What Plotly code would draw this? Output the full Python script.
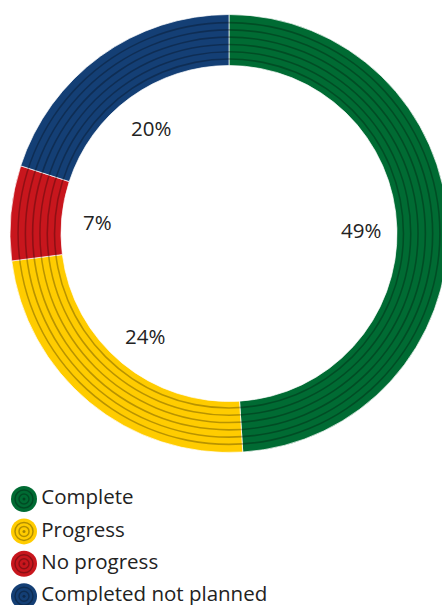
import math
import plotly.graph_objects as go

# ---- data ----
categories = ["Complete", "Progress", "No progress", "Completed not planned"]
values = [49, 24, 7, 20]
colors = ["#006B33", "#FFCC00", "#C8161D", "#143F75"]

# ---- geometry (pixels) ----
W, H = 450, 605
CX, CY = 229, 233.5
R_OUT = 219
HOLE = 0.767
N_BANDS = 7
LABEL_R = 132
FONT = "Open Sans"
FSIZE = 20.5


def dom(r):
    return dict(x=[(CX - r) / W, (CX + r) / W],
                y=[(H - CY - r) / H, (H - CY + r) / H])


fig = go.Figure()

fig.add_trace(go.Pie(
    labels=categories, values=values, sort=False, direction="clockwise",
    rotation=0, hole=HOLE, domain=dom(R_OUT), textinfo="none",
    marker=dict(colors=colors, line=dict(color="rgba(255,255,255,0.7)", width=1)),
    showlegend=False, hoverinfo="label+percent",
))

# concentric dark stripes inside the ring
band = R_OUT * (1 - HOLE) / N_BANDS
for k in range(1, N_BANDS):
    r = R_OUT - k * band
    fig.add_trace(go.Pie(
        values=[1], sort=False, hole=(r - 1.6) / r, domain=dom(r),
        textinfo="none", marker=dict(colors=["rgba(0,0,0,0.28)"], line=dict(width=0)),
        showlegend=False, hoverinfo="skip",
    ))

# percentage labels inside the hole, placed at each slice's mid angle
total = sum(values)
cum = 0
for v in values:
    mid = (cum + v / 2) / total * 2 * math.pi
    cum += v
    px = CX + LABEL_R * math.sin(mid)
    py = CY + 1 - LABEL_R * math.cos(mid)
    fig.add_annotation(
        x=px / W, y=1 - py / H, xref="paper", yref="paper",
        text=f"{round(v / total * 100)}%", showarrow=False,
        xanchor="center", yanchor="middle",
        font=dict(family=FONT, size=FSIZE, color="#222222"),
    )

# custom legend
idx = list(range(len(categories)))
fig.add_trace(go.Scatter(
    x=[0] * len(categories), y=idx, mode="markers+text",
    text=categories, textposition="middle right",
    textfont=dict(family=FONT, size=FSIZE, color="#222222"),
    marker=dict(size=26, color=colors, line=dict(width=0)),
    showlegend=False, hoverinfo="skip", xaxis="x", yaxis="y",
))
for s in (18, 10):
    fig.add_trace(go.Scatter(
        x=[0] * len(categories), y=idx, mode="markers",
        marker=dict(size=s, symbol="circle-open", color="rgba(0,0,0,0.3)",
                    line=dict(width=1.5, color="rgba(0,0,0,0.3)")),
        showlegend=False, hoverinfo="skip",
    ))
fig.add_trace(go.Scatter(
    x=[0] * len(categories), y=idx, mode="markers",
    marker=dict(size=3, color="rgba(0,0,0,0.35)"),
    showlegend=False, hoverinfo="skip",
))

LEG_TOP, LEG_BOT = 480, 605
Y0, STEP = 499, 32.4
fig.update_layout(
    width=W, height=H, margin=dict(l=0, r=0, t=0, b=0),
    paper_bgcolor="white", plot_bgcolor="rgba(0,0,0,0)",
    xaxis=dict(domain=[0, 1], range=[-24, W - 24], visible=False, fixedrange=True),
    yaxis=dict(domain=[0, (LEG_BOT - LEG_TOP) / H],
               range=[(LEG_BOT - Y0) / STEP, (LEG_TOP - Y0) / STEP],
               visible=False, fixedrange=True),
    font=dict(family=FONT),
)

fig.write_html("out.html", config={"displayModeBar": False},
               post_script="document.body.style.margin='0';document.body.style.overflow='hidden';")
